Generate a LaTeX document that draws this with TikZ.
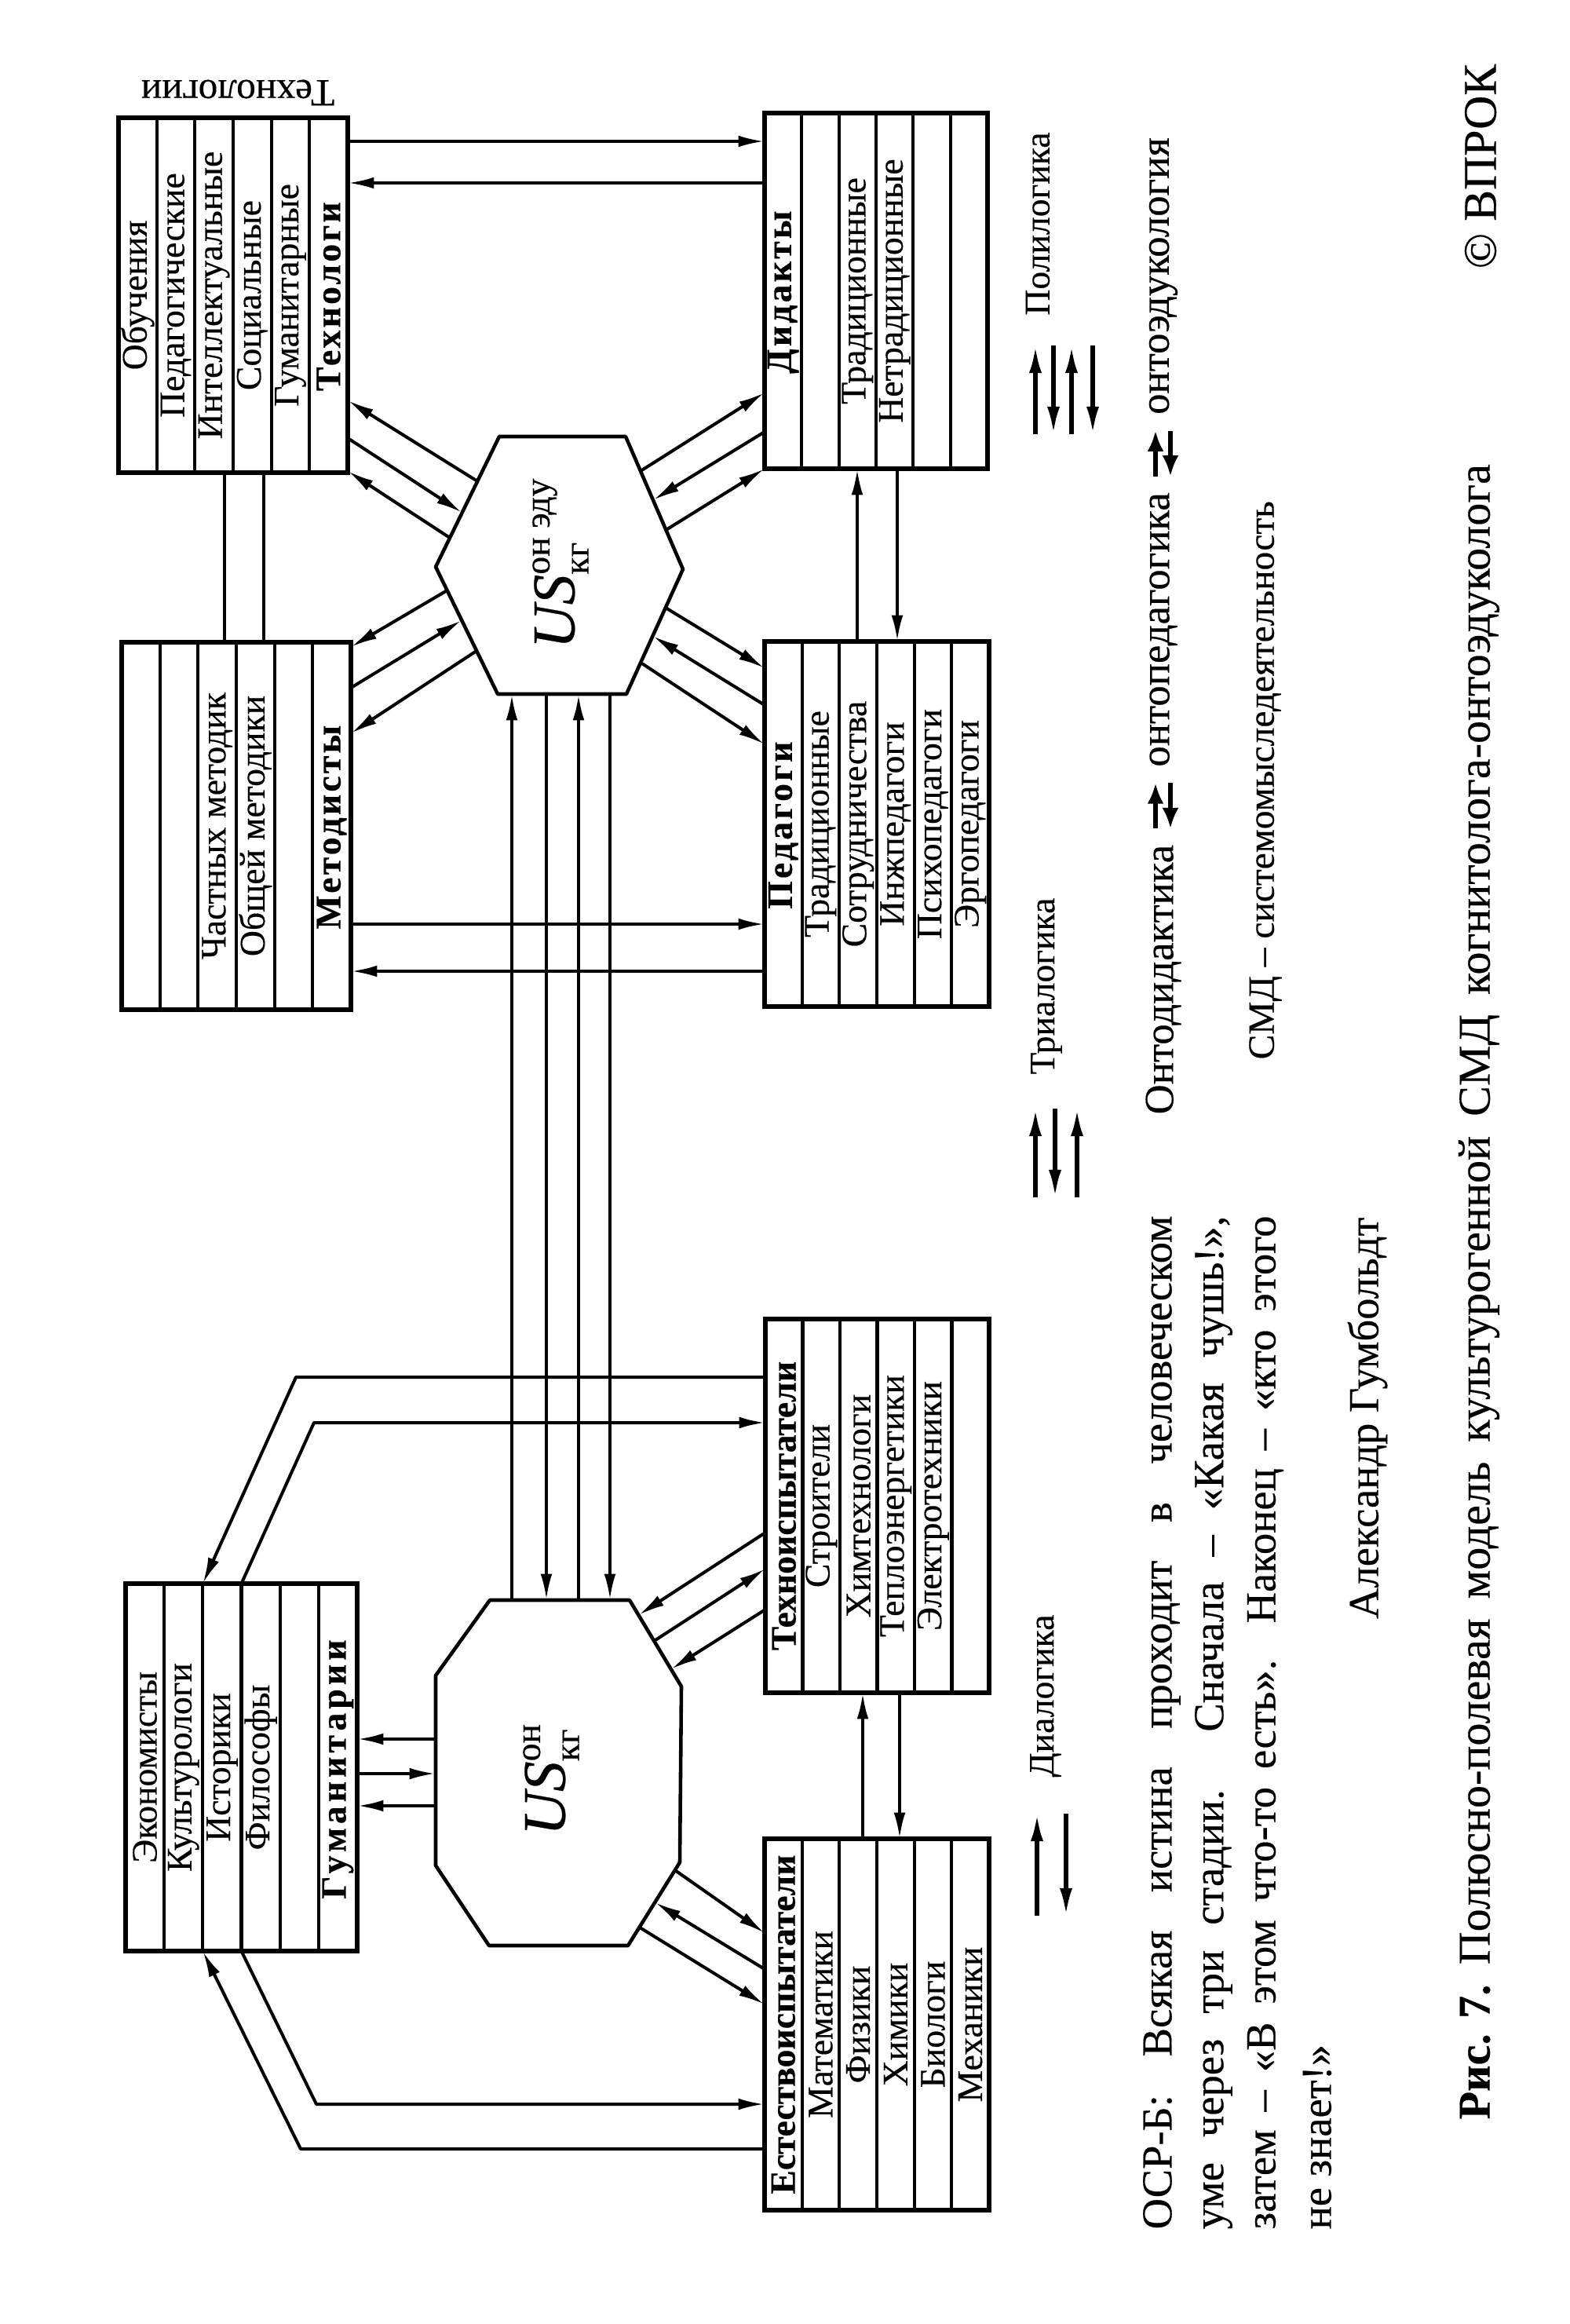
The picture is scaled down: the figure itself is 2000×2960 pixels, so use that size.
\documentclass[tikz,border=0pt]{standalone}
\usepackage{fontspec}
\setmainfont{Liberation Serif}[FakeBold=0.35]
\usetikzlibrary{arrows.meta,calc}
\newcommand\ttl[1]{\textbf{\addfontfeature{LetterSpace=7}#1}}
\newcommand\ttlw[1]{\textbf{\addfontfeature{LetterSpace=11}#1}}
\newcommand\mycolbox[6]{%
  \node[boxframe, minimum width={(#3-#2)*0.01cm}, minimum height={(#5-#4)*0.01cm}] (#1) at ({(#2+#3)/2},{(#4+#5)/2}) {};
  \foreach \k in {1,...,5}{\draw[colline] ({#2+\k*(#3-#2)/6},#4) -- ({#2+\k*(#3-#2)/6},#5);}
  \foreach \lab [count=\k] in {#6}{\node[boxtext] (#1-\k) at ({#2+(\k-0.5)*(#3-#2)/6},{(#4+#5)/2}) {\lab};}%
}
\begin{document}
\begin{tikzpicture}[x=0.01cm,y=-0.01cm,
  boxframe/.style={draw, line width=1.5pt, inner sep=0pt, outer sep=0pt},
  colline/.style={line width=1.15pt},
  boxtext/.style={rotate=90, inner sep=0pt, font=\fontsize{13}{15}\selectfont},
  conn/.style={line width=1.15pt},
  arr/.style={conn, -{Latex[length=9.5pt,width=4.2pt]}},
  legarr/.style={line width=1.5pt, -{Latex[length=10pt,width=4.6pt]}},
  symarr/.style={line width=1.8pt, -{Latex[length=7.5pt,width=6pt]}},
  loglab/.style={rotate=90, inner sep=0pt, font=\fontsize{13}{15}\selectfont},
  legtext/.style={rotate=90, inner sep=0pt, font=\fontsize{13.5}{16}\selectfont},
  ontotext/.style={rotate=90, inner sep=0pt, font=\fontsize{15}{18}\selectfont},
  bigtext/.style={rotate=90, inner sep=0pt, font=\fontsize{15.5}{18}\selectfont},
  captext/.style={rotate=90, inner sep=0pt, font=\fontsize{16.5}{20}\selectfont},
  figline/.style={line width=1.3pt, line join=round},
  uslab/.style={rotate=90, inner sep=0pt, font=\fontsize{22}{26}\selectfont}
]
\useasboundingbox (0,0) rectangle (2000,2960);
\fill[white] (0,0) rectangle (2000,2960);

% ---------- boxes ----------
\mycolbox{tech}{151}{443}{150}{602}{Обучения,Педагогические,Интеллектуальные,Социальные,Гуманитарные,\ttl{Технологи}}
\mycolbox{did}{974}{1258}{144}{597}{\ttl{Дидакты},{},Традиционные,Нетрадиционные,{},{}}
\mycolbox{met}{155}{447}{818}{1286}{{},{},Частных методик,Общей методики,{},\ttl{Методисты}}
\mycolbox{ped}{974}{1260}{817}{1282}{\ttl{Педагоги},Традиционные,Сотрудничества,Инжпедагоги,Психопедагоги,Эргопедагоги}
\mycolbox{gum}{160}{455}{2017}{2485}{Экономисты,Культурологи,Историки,Философы,{},\ttlw{Гуманитарии}}
\mycolbox{tno}{975}{1260}{1680}{2156}{\textbf{Техноиспытатели},Строители,Химтехнологи,Теплоэнергетики,Электротехники,{}}
\mycolbox{est}{974}{1260}{2342}{2815}{\textbf{Естествоиспытатели},Математики,Физики,Химики,Биологи,Механики}

\node[boxtext, rotate=90, font=\fontsize{14}{16}\selectfont] (techtitle) at (303,118) {Технологии};

% ---------- hexagon ----------
\coordinate (h1) at (636,556); \coordinate (h2) at (797,556); \coordinate (h3) at (870,725);
\coordinate (h4) at (798,884); \coordinate (h5) at (634,884); \coordinate (h6) at (555,722);
\draw[figline] (h1)--(h2)--(h3)--(h4)--(h5)--(h6)--cycle;
\node[uslab] (hexlab) at (714,717) {$\mbox{\itshape US}^{\mbox{\fontsize{13}{15}\selectfont он эду}}_{\mbox{\fontsize{13}{15}\selectfont кг}}$};

% ---------- octagon ----------
\coordinate (o1) at (624,2038); \coordinate (o2) at (802,2038); \coordinate (o3) at (868,2148);
\coordinate (o4) at (866,2372); \coordinate (o5) at (800,2478); \coordinate (o6) at (623,2478);
\coordinate (o7) at (555,2376); \coordinate (o8) at (555,2134);
\draw[figline] (o1)--(o2)--(o3)--(o4)--(o5)--(o6)--(o7)--(o8)--cycle;
\node[uslab] (octlab) at (702,2266) {$\mbox{\itshape US}^{\mbox{\fontsize{13}{15}\selectfont он}}_{\mbox{\fontsize{13}{15}\selectfont кг}}$};

% ---------- Tech <-> Didact, Tech - Metod, Didact <-> Pedag, Metod <-> Pedag ----------
\coordinate (tdA1) at (443,180); \coordinate (tdA2) at (974,180);
\coordinate (tdB1) at (443,233); \coordinate (tdB2) at (974,233);
\draw[arr] (tdA1) -- (tdA2);
\draw[arr] (tdB2) -- (tdB1);
\coordinate (tm1a) at (286,602); \coordinate (tm1b) at (286,818);
\coordinate (tm2a) at (336,602); \coordinate (tm2b) at (336,818);
\draw[conn] (tm1a) -- (tm1b);
\draw[conn] (tm2a) -- (tm2b);
\coordinate (dp1a) at (1092,817); \coordinate (dp1b) at (1092,597);
\coordinate (dp2a) at (1143,597); \coordinate (dp2b) at (1143,817);
\draw[arr] (dp1a) -- (dp1b);
\draw[arr] (dp2a) -- (dp2b);
\coordinate (mpA1) at (447,1177); \coordinate (mpA2) at (974,1177);
\coordinate (mpB1) at (447,1237); \coordinate (mpB2) at (974,1237);
\draw[arr] (mpA1) -- (mpA2);
\draw[arr] (mpB2) -- (mpB1);

% ---------- hexagon spokes ----------
\coordinate (hl1) at ($(h1)!0.343!(h6)$); \coordinate (tl1) at (443,510);
\coordinate (hl2) at ($(h1)!0.584!(h6)$); \coordinate (tl2) at (443,558);
\coordinate (hl3) at ($(h1)!0.777!(h6)$); \coordinate (tl3) at (443,600);
\draw[arr] (hl1) -- (tl1);
\draw[arr] (tl2) -- (hl2);
\draw[arr] (hl3) -- (tl3);
\coordinate (hr1) at ($(h2)!0.26!(h3)$);  \coordinate (dl1) at (974,500);
\coordinate (hr2) at ($(h2)!0.479!(h3)$); \coordinate (dl2) at (974,550);
\coordinate (hr3) at ($(h2)!0.704!(h3)$); \coordinate (dl3) at (974,597);
\draw[arr] (hr1) -- (dl1);
\draw[arr] (dl2) -- (hr2);
\draw[arr] (hr3) -- (dl3);
\coordinate (hm1) at ($(h6)!0.185!(h5)$); \coordinate (ml1) at (447,824);
\coordinate (hm2) at ($(h6)!0.42!(h5)$);  \coordinate (ml2) at (447,876);
\coordinate (hm3) at ($(h6)!0.66!(h5)$);  \coordinate (ml3) at (447,934);
\draw[arr] (hm1) -- (ml1);
\draw[arr] (ml2) -- (hm2);
\draw[arr] (hm3) -- (ml3);
\coordinate (hp1) at ($(h3)!0.308!(h4)$); \coordinate (pl1) at (974,851);
\coordinate (hp2) at ($(h3)!0.535!(h4)$); \coordinate (pl2) at (974,898);
\coordinate (hp3) at ($(h3)!0.748!(h4)$); \coordinate (pl3) at (974,948);
\draw[arr] (hp1) -- (pl1);
\draw[arr] (pl2) -- (hp2);
\draw[arr] (hp3) -- (pl3);

% ---------- hexagon <-> octagon ----------
\coordinate (v1t) at (652,884); \coordinate (v1b) at (652,2038);
\coordinate (v2t) at (696,884); \coordinate (v2b) at (696,2038);
\coordinate (v3t) at (737,884); \coordinate (v3b) at (737,2038);
\coordinate (v4t) at (777,884); \coordinate (v4b) at (777,2038);
\draw[arr] (v1b) -- (v1t);
\draw[arr] (v2t) -- (v2b);
\draw[arr] (v3b) -- (v3t);
\draw[arr] (v4t) -- (v4b);

% ---------- octagon spokes ----------
\coordinate (og1) at (555,2215); \coordinate (gr1) at (455,2215);
\coordinate (og2) at (555,2259); \coordinate (gr2) at (455,2259);
\coordinate (og3) at (555,2300); \coordinate (gr3) at (455,2300);
\draw[arr] (og1) -- (gr1);
\draw[arr] (gr2) -- (og2);
\draw[arr] (og3) -- (gr3);
\coordinate (ot1) at ($(o2)!0.173!(o3)$); \coordinate (nl1) at (975,1952);
\coordinate (ot2) at ($(o2)!0.473!(o3)$); \coordinate (nl2) at (975,1998);
\coordinate (ot3) at ($(o2)!0.8!(o3)$);   \coordinate (nl3) at (975,2050);
\draw[arr] (nl1) -- (ot1);
\draw[arr] (ot2) -- (nl2);
\draw[arr] (nl3) -- (ot3);
\coordinate (oe1) at ($(o4)!0.094!(o5)$); \coordinate (el1) at (974,2462);
\coordinate (oe2) at ($(o4)!0.48!(o5)$);  \coordinate (el2) at (974,2508);
\coordinate (oe3) at ($(o4)!0.78!(o5)$);  \coordinate (el3) at (974,2553);
\draw[arr] (oe1) -- (el1);
\draw[arr] (el2) -- (oe2);
\draw[arr] (oe3) -- (el3);

% ---------- Techno <-> Estestvo ----------
\coordinate (te1a) at (1099,2342); \coordinate (te1b) at (1099,2156);
\coordinate (te2a) at (1146,2156); \coordinate (te2b) at (1146,2342);
\draw[arr] (te1a) -- (te1b);
\draw[arr] (te2a) -- (te2b);

% ---------- Gum polylines ----------
\coordinate (p1a) at (975,1754); \coordinate (p1b) at (377,1754); \coordinate (p1c) at (258.3,2017);
\coordinate (p2a) at (307.5,2017); \coordinate (p2b) at (400,1812); \coordinate (p2c) at (975,1812);
\coordinate (p3a) at (307.5,2485); \coordinate (p3b) at (403,2680); \coordinate (p3c) at (974,2680);
\coordinate (p4a) at (974,2737); \coordinate (p4b) at (383,2737); \coordinate (p4c) at (258.3,2485);
\draw[arr, line join=round] (p1a) -- (p1b) -- (p1c);
\draw[arr, line join=round] (p2a) -- (p2b) -- (p2c);
\draw[arr, line join=round] (p3a) -- (p3b) -- (p3c);
\draw[arr, line join=round] (p4a) -- (p4b) -- (p4c);

% ---------- legend ----------
\node[loglab] (poly) at (1322,285) {Полилогика};
\draw[legarr] (1319,553) -- (1319,440);
\draw[legarr] (1342,440) -- (1342,553);
\draw[legarr] (1365,553) -- (1365,440);
\draw[legarr] (1392,440) -- (1392,553);
\node[loglab] (tria) at (1333,1256) {Триалогика};
\draw[legarr] (1319,1525) -- (1319,1412);
\draw[legarr] (1344,1412) -- (1344,1525);
\draw[legarr] (1372,1525) -- (1372,1412);
\node[loglab] (dia) at (1332,2160) {Диалогика};
\draw[legarr] (1321,2440) -- (1321,2310);
\draw[legarr] (1358,2310) -- (1358,2440);

\node[ontotext, anchor=west] (od) at (1482,1420) {Онтодидактика};
\coordinate (s1) at ($(od.east)+(0,-20)$);
\draw[symarr] ($(s1)+(-10,0)$) -- ++(0,-58);
\draw[symarr] ($(s1)+(9,-58)$) -- ++(0,58);
\node[ontotext, anchor=west] (op) at ($(s1)+(0,-78)$) {онтопедагогика};
\coordinate (s2) at ($(op.east)+(0,-20)$);
\draw[symarr] ($(s2)+(-10,0)$) -- ++(0,-58);
\draw[symarr] ($(s2)+(9,-58)$) -- ++(0,58);
\node[ontotext, anchor=west] (oe) at ($(s2)+(0,-78)$) {онтоэдукология};

\node[legtext, anchor=west] (smd) at (1612,1350) {СМД – системомыследеятельность};

% ---------- quote ----------
\node[bigtext, anchor=west] (q1) at (1480,2840) {\makebox[12.9cm][s]{ОСР-Б: Всякая истина проходит в человеческом}};
\node[bigtext, anchor=west] (q2) at (1546,2840) {\makebox[12.9cm][s]{уме через три стадии. Сначала – «Какая чушь!»,}};
\node[bigtext, anchor=west] (q3) at (1612,2840) {\makebox[12.9cm][s]{затем – «В этом что-то есть». Наконец – «кто этого}};
\node[bigtext, anchor=west] (q4) at (1678,2840) {не знает!»};
\node[bigtext, anchor=east] (author) at (1742,1550) {Александр Гумбольдт};

% ---------- caption ----------
\node[captext, anchor=west] (cap) at (1884,2700) {\makebox[21.07cm][s]{\hbox{\textbf{Рис. 7.}} Полюсно-полевая модель культурогенной СМД когнитолога-онтоэдуколога}};
\node[captext, font=\fontsize{17}{20}\selectfont] (copy) at (1886,212) {© ВПРОК};
\end{tikzpicture}
\end{document}
